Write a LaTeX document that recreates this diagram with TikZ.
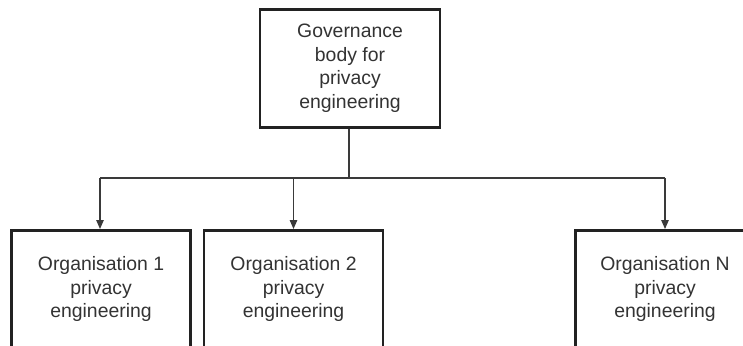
\documentclass[tikz,border=0pt]{standalone}
\usepackage{fontspec}
\setmainfont{Liberation Sans}
\usetikzlibrary{arrows.meta}
\definecolor{boxline}{HTML}{222222}
\definecolor{wire}{HTML}{3A3A3A}
\definecolor{ink}{HTML}{333333}
\begin{document}
\begin{tikzpicture}[x=1pt,y=1pt,
  orgbox/.style={draw=boxline, line width=2.8pt, fill=white,
    minimum width=179pt, minimum height=118pt, inner sep=0pt,
    align=center, text=ink, font=\fontsize{19.4}{23.5}\selectfont},
  link/.style={draw=wire, line width=1.2pt,
    -{Triangle[length=9pt,width=7.5pt]}}]
\useasboundingbox (0,0) rectangle (743,-345);
\clip (0,0) rectangle (743,-345);
% governance body
\node[orgbox, minimum width=180pt, anchor=north] (gov) at (350,-8)
  {Governance\\body for\\privacy\\engineering};
% member organisations (boxes run past the lower edge)
\node[orgbox, anchor=north] (o1) at (101,-229) {Organisation 1\\privacy\\engineering};
\node[orgbox, anchor=north] (o2) at (293.5,-229) {Organisation 2\\privacy\\engineering};
\node[orgbox, anchor=north] (on) at (665,-229) {Organisation N\\privacy\\engineering};
% distribution lines
\coordinate (jn) at (349,-178);
\coordinate (jl) at (100,-178);
\coordinate (jr) at (665,-178);
\draw[draw=wire, line width=1.2pt] (gov.south -| jn) -- (jn);
\draw[draw=wire, line width=1.2pt] (jl) -- (jr);
\draw[link] (jl) -- (jl |- o1.north);
\draw[link] (jn -| o2.north) -- (o2.north);
\draw[link] (jr) -- (on.north);
\end{tikzpicture}
\end{document}
